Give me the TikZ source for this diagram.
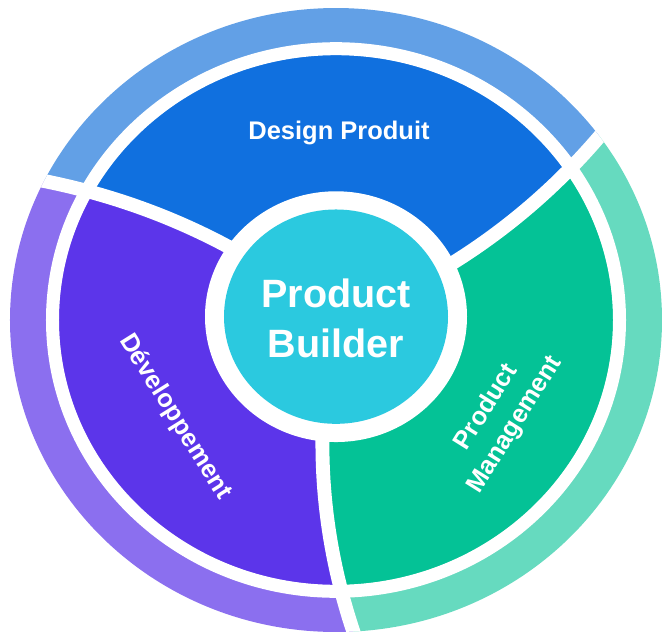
\documentclass[tikz,border=0pt]{standalone}
\usepackage{fontspec}
\setmainfont{Liberation Sans}
\definecolor{ringblue}{HTML}{62A0E6}
\definecolor{segblue}{HTML}{1070DF}
\definecolor{ringpurple}{HTML}{8B6FEF}
\definecolor{segpurple}{HTML}{5C35EA}
\definecolor{ringgreen}{HTML}{66DABF}
\definecolor{seggreen}{HTML}{04C296}
\definecolor{hub}{HTML}{2BC9DF}
\begin{document}
\begin{tikzpicture}
  [x=0.02cm,y=0.02cm,every node/.style={text=white,align=center,font=\fontsize{14.5}{19}\selectfont\bfseries}]
  \useasboundingbox (-336,-313) rectangle (326,320);
  \begin{scope}[yscale=0.957]
   \clip (0,0) circle (326);
   % three sectors, each cut by a curved divider
   \foreach \ca/\cb/\outer/\inner in {27/144.5/ringblue/segblue,144.5/264/ringpurple/segpurple,264/387/ringgreen/seggreen}
   {
    \fill[\outer] plot[domain=0:340,samples=30,variable=\r] ({\ca+9*(\r-130)/195}:\r)
      arc[start angle={\ca+9*210/195},end angle={\cb+9*210/195},radius=340]
      -- plot[domain=340:0,samples=30,variable=\r] ({\cb+9*(\r-130)/195}:\r) -- cycle;
    \begin{scope}
     \clip (0,0) circle (277);
     \fill[\inner] plot[domain=0:340,samples=30,variable=\r] ({\ca+9*(\r-130)/195}:\r)
       arc[start angle={\ca+9*210/195},end angle={\cb+9*210/195},radius=340]
       -- plot[domain=340:0,samples=30,variable=\r] ({\cb+9*(\r-130)/195}:\r) -- cycle;
    \end{scope}
   }
   \draw[white,line width=7.4pt] (0,0) circle (283.5);
   \foreach \ca in {27,144.5,264}
    \draw[white,line width=7.9pt] plot[domain=100:345,samples=30,variable=\r] ({\ca+9*(\r-130)/195}:\r);
   \fill[white] (0,3.5) circle (131);
   \fill[hub] (0,3.5) circle (112);
  \end{scope}

  \node (design) at (3,187) {Design Produit};
  \node[rotate=-58] (dev) at (-161,-97) {Développement};
  \node[rotate=58] (pm) at (165,-96) {Product\\Management};
  \node[font=\fontsize{22.5}{28.4}\selectfont\bfseries] (builder) at (0,1.5) {Product\\Builder};
\end{tikzpicture}
\end{document}
